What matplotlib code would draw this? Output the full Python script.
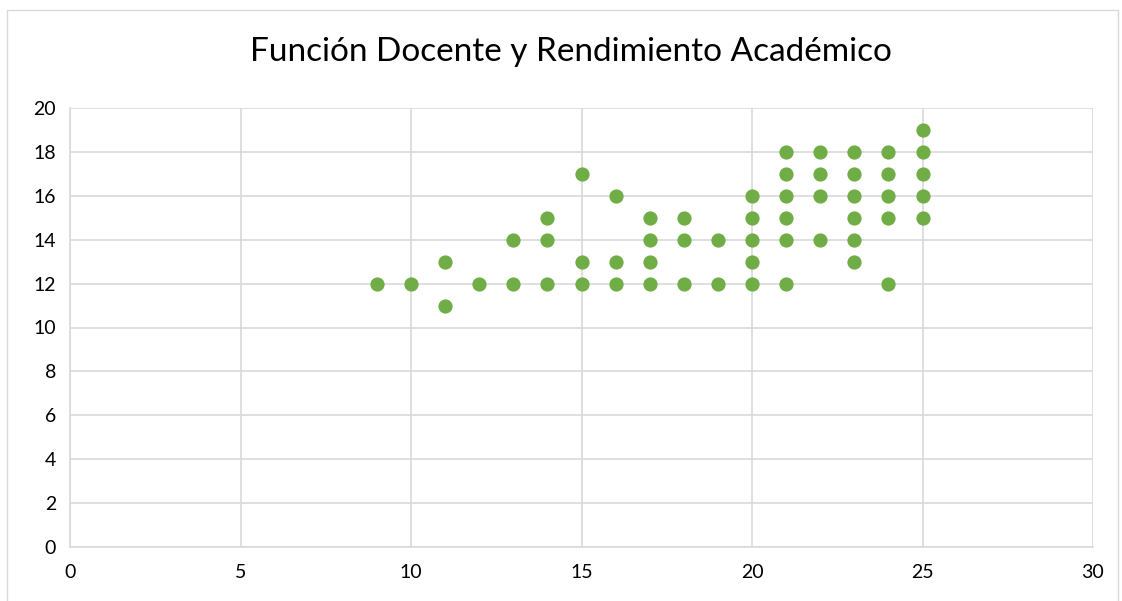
import matplotlib
matplotlib.use("Agg")
import matplotlib.pyplot as plt
from matplotlib.lines import Line2D

# docencia (x) vs rendimiento (y)
docente = [9, 10, 11, 11, 12, 13, 13, 14, 14, 14,
           15, 15, 15, 16, 16, 16, 17, 17, 17, 17,
           18, 18, 18, 19, 19, 20, 20, 20, 20, 20,
           21, 21, 21, 21, 21, 21, 22, 22, 22, 22,
           23, 23, 23, 23, 23, 23, 24, 24, 24, 24, 24,
           25, 25, 25, 25, 25]
rendimiento = [12, 12, 13, 11, 12, 14, 12, 15, 14, 12,
               17, 13, 12, 16, 13, 12, 15, 14, 13, 12,
               15, 14, 12, 14, 12, 16, 15, 14, 13, 12,
               18, 17, 16, 15, 14, 12, 18, 17, 16, 14,
               18, 17, 16, 15, 14, 13, 18, 17, 16, 15, 12,
               19, 18, 17, 16, 15]

x_ticks = [0, 5, 10, 15, 20, 25, 30]
y_ticks = [0, 2, 4, 6, 8, 10, 12, 14, 16, 18, 20]

plt.rcParams['font.family'] = ['Lato', 'DejaVu Sans']

W, H = 1122, 601
fig = plt.figure(figsize=(W / 100, H / 100), dpi=100)
ax = fig.add_axes([70 / W, 1 - 547 / H, (1093 - 70) / W, (547 - 108) / H])

ax.scatter(docente, rendimiento, s=105, color="#70AD47", zorder=3, linewidths=0)

ax.set_xlim(0, 30)
ax.set_ylim(0, 20)
ax.set_xticks(x_ticks)
ax.set_yticks(y_ticks)
ax.grid(True, color="#D9D9D9", linewidth=1.2, zorder=0)
ax.tick_params(length=0, labelsize=14, colors="black", pad=12)
ax.tick_params(axis="y", pad=10)
for name, sp in ax.spines.items():
    if name in ("left", "bottom"):
        sp.set_color("#D9D9D9")
        sp.set_linewidth(1.2)
    else:
        sp.set_visible(False)

fig.text(0.509, 1 - 52 / H, "Función Docente y Rendimiento Académico",
         ha="center", va="center", fontsize=24, color="black")

# outer chart border
bx0, bx1, by = 7 / W, 1118 / W, 1 - 10 / H
fig.add_artist(Line2D([bx0, bx0, bx1, bx1], [0, by, by, 0],
                      transform=fig.transFigure, color="#D9D9D9", linewidth=1))

fig.savefig("out.png", dpi=100)
